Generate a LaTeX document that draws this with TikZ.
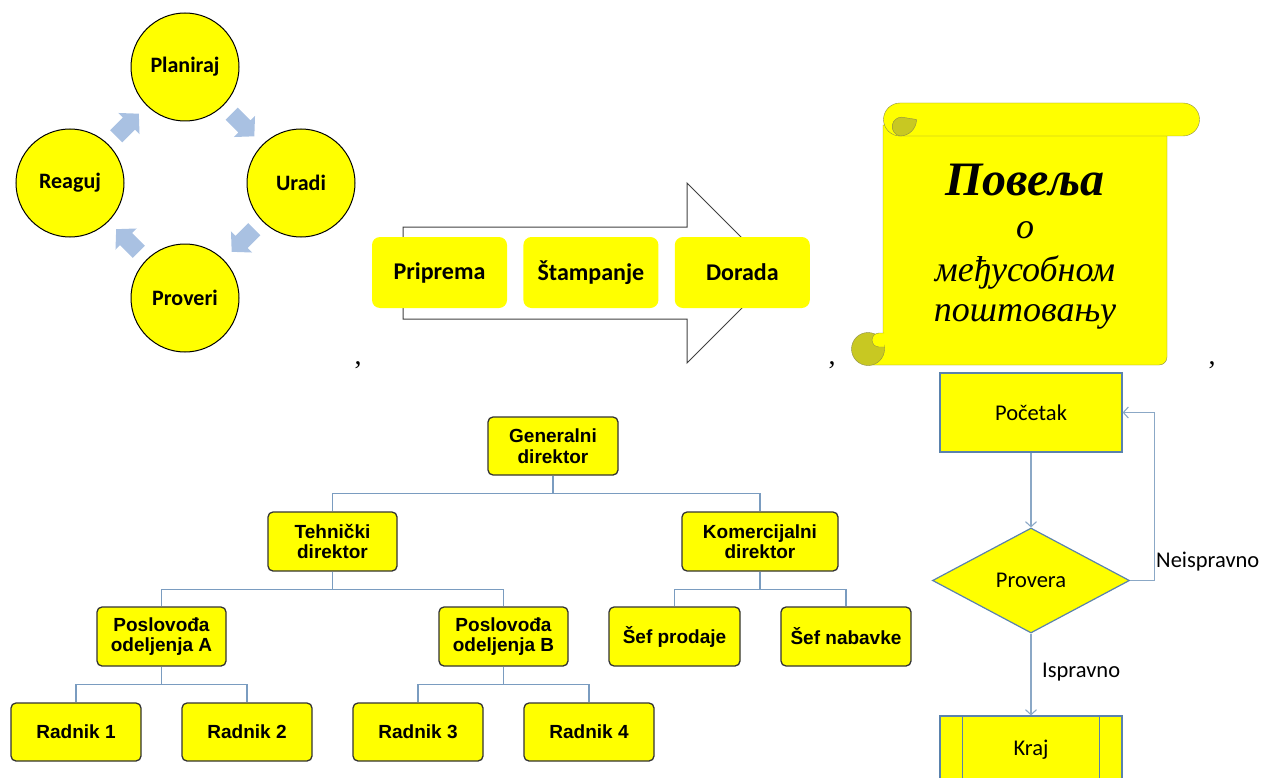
\documentclass[tikz,border=0pt]{standalone}
\usepackage{fontspec}
\setmainfont{Liberation Serif}
\newfontfamily\calibrifont{Carlito}
\newfontfamily\arialfont{Liberation Sans}
\usepackage{tikz}
\usetikzlibrary{arrows.meta, positioning, calc}
\usetikzlibrary{shapes.geometric}

\definecolor{zuta}{HTML}{FFFF00}
\definecolor{plava}{HTML}{A9C1E2}
\definecolor{orgplava}{HTML}{7A9CC0}
\definecolor{tokplava}{HTML}{5A82AD}
\definecolor{svitak}{HTML}{8C8C46}
\definecolor{maslina}{HTML}{C8C822}

\begin{document}
\begin{tikzpicture}[
    x=1pt, y=1pt,
    every node/.style={inner sep=0pt}, % bez unutrasnjeg razmaka
    krug/.style={circle, draw=black, line width=1pt, fill=zuta, minimum size=108pt,
        font=\calibrifont\bfseries\fontsize{22}{26}\selectfont}, % krugovi ciklusa
    strelica/.style={fill=plava}, % plave strelice
    faza/.style={rounded corners=8pt, fill=zuta, minimum width=135pt, minimum height=71pt,
        font=\calibrifont\bfseries\fontsize{24}{28}\selectfont}, % faze procesa
    org/.style={draw=black!80, line width=1.3pt, rounded corners=5pt, fill=zuta,
        minimum width=130pt, minimum height=59pt, align=center,
        font=\arialfont\bfseries\fontsize{19}{20.5}\selectfont}, % kutije organigrama
    veza/.style={orgplava, line width=1.5pt}, % linije organigrama
    tok/.style={draw=tokplava, line width=1.2pt, fill=zuta,
        font=\calibrifont\fontsize{22.5}{27}\selectfont}, % dijagram toka
    linija/.style={tokplava!70, line width=1.1pt, -{Straight Barb[length=5pt, width=11pt]}}, % strelice toka
    natpis/.style={font=\calibrifont\fontsize{22.5}{27}\selectfont}, % natpisi na linijama
    zarez/.style={font=\fontsize{28}{32}\selectfont}, % zarezi
    cirilica/.style={font=\itshape\fontsize{36}{40}\selectfont} % tekst povelje
]
    \clip (0,0) rectangle (1268,-778);

    % 1. Ciklus: Planiraj - Uradi - Proveri - Reaguj
    \node[krug] (plan)    at (185,-67)  {Planiraj};
    \node[krug] (uradi)   at (301,-183) {Uradi};
    \node[krug] (proveri) at (185,-298) {Proveri};
    \node[krug] (reaguj)  at (70,-183)  {Reaguj};
    \foreach \a/\b/\ug in {reaguj/plan/45, plan/uradi/-45, uradi/proveri/-135, proveri/reaguj/135} {
        \fill[strelica, shift={($(\a)!0.5!(\b)$)}, rotate=\ug]
            (-16,-8.5) -- (2,-8.5) -- (2,-15) -- (16,0) -- (2,15) -- (2,8.5) -- (-16,8.5) -- cycle;
    }
    \node[zarez, anchor=base] (z1) at (358,-364) {,};

    % 2. Proces: velika strelica i tri faze
    \draw[black!75, line width=1pt] (403,-227) -- (687,-227) -- (687,-183) -- (777,-273)
        -- (687,-363) -- (687,-319) -- (403,-319) -- cycle;
    \node[faza] (prip) at (439.5,-272.5) {Priprema};
    \node[faza, right=16pt of prip] (stamp) {Štampanje};
    \node[faza, right=16pt of stamp] (dorada) {Dorada};
    \node[zarez, anchor=base] (z2) at (832,-364) {,};

    % 3. Povelja (svitak)
    \filldraw[fill=zuta, draw=svitak] (883,-125) -- (883,-349) -- (868,-349) -- (868,-365)
        -- (1159,-365) arc[start angle=270, end angle=360, radius=8] -- (1167,-125) -- cycle;
    \filldraw[fill=zuta, draw=svitak] (900,-103) -- (1183,-103)
        arc[start angle=90, end angle=-90, radius=16.5] -- (900,-136)
        arc[start angle=270, end angle=90, radius=16.5] -- cycle;
    \filldraw[fill=maslina, draw=svitak] (916.5,-119.5) arc[start angle=0, end angle=-90, radius=16.5]
        arc[start angle=260, end angle=90, radius=9.5] -- cycle;
    \filldraw[fill=maslina, draw=svitak] (868,-349) circle (16.5);
    \filldraw[fill=zuta, draw=svitak] (884,-333) -- (879,-333)
        arc[start angle=90, end angle=270, radius=7] -- (884,-347);
    \node[font=\bfseries\itshape\fontsize{48}{52}\selectfont] (naslov) at (1025,-180) {Повеља};
    \node[cirilica] (o) at (1025,-230) {о};
    \node[cirilica] (medju) at (1025,-272) {међусобном};
    \node[cirilica] (postov) at (1025,-317) {поштовању};
    \node[zarez, anchor=base] (z3) at (1212,-364) {,};

    % 4. Organigram
    \node[org, minimum height=58pt] (gen) at (553,-446) {Generalni\\direktor};
    \node[org, minimum width=129pt] (teh)  at (332.5,-541.5) {Tehnički\\direktor};
    \node[org, minimum width=156pt] (kom)  at (760,-541.5) {Komercijalni\\direktor};
    \node[org, minimum width=129pt] (posA) at (161.5,-636.5) {Poslovođa\\odeljenja A};
    \node[org, minimum width=129pt] (posB) at (503.5,-636.5) {Poslovođa\\odeljenja B};
    \node[org, minimum width=131pt] (sefP) at (674.5,-636.5) {Šef prodaje};
    \node[org] (sefN) at (846,-636.5) {Šef nabavke};
    \node[org, minimum height=58pt] (r1) at (76,-732) {Radnik 1};
    \node[org, minimum height=58pt] (r2) at (247,-732) {Radnik 2};
    \node[org, minimum height=58pt] (r3) at (418,-732) {Radnik 3};
    \node[org, minimum height=58pt] (r4) at (589,-732) {Radnik 4};
    \foreach \p/\c in {gen/teh, gen/kom, teh/posA, teh/posB, kom/sefP, kom/sefN,
                       posA/r1, posA/r2, posB/r3, posB/r4} {
        \draw[veza] (\p.south) -- ++(0,-18) -| (\c.north);
    }

    % 5. Dijagram toka
    \node[tok, minimum width=182pt, minimum height=79pt] (pocetak) at (1031,-412.5) {Početak};
    \node[tok, diamond, aspect=1.9, minimum width=197pt, minimum height=105pt] (provera) at (1031,-580.5) {Provera};
    \node[tok, minimum width=182pt, minimum height=68pt] (kraj) at (1031,-750) {Kraj};
    \draw[tokplava, line width=1.2pt] ($(kraj.north west)+(23,0)$) -- ($(kraj.south west)+(23,0)$);
    \draw[tokplava, line width=1.2pt] ($(kraj.north east)+(-23,0)$) -- ($(kraj.south east)+(-23,0)$);
    \draw[linija] (pocetak) -- (provera);
    \draw[linija] (provera) -- (kraj);
    \draw[linija] (provera.east) -- ++(24,0) |- (pocetak.east);
    \node[natpis, anchor=west] (neisp) at (1156,-562) {Neispravno};
    \node[natpis, anchor=west] (isp) at (1042,-672) {Ispravno};

\end{tikzpicture}
\end{document}
